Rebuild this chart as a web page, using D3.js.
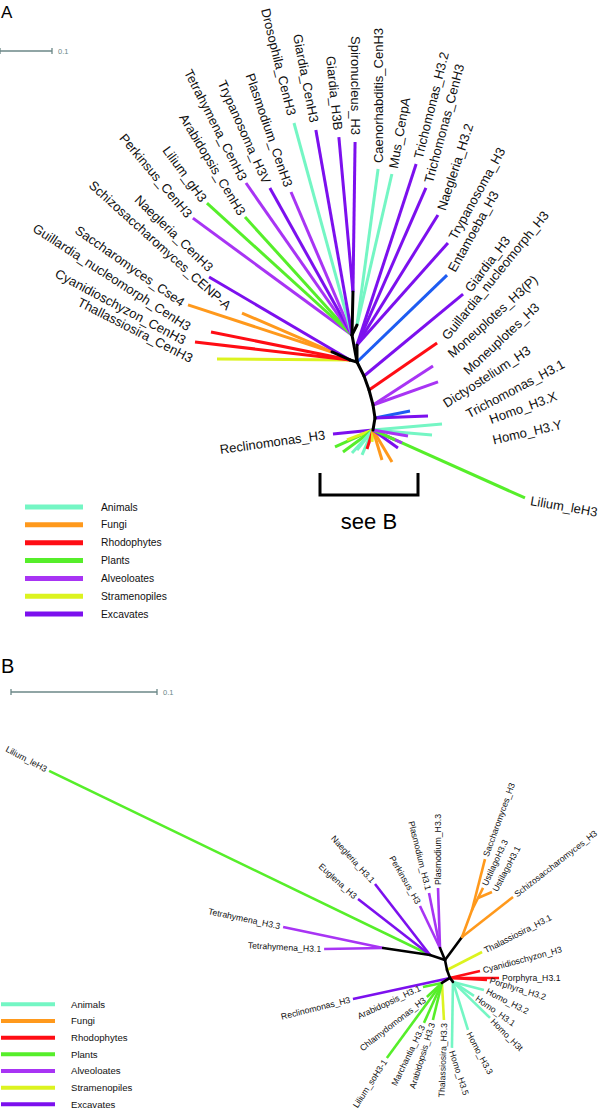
<!DOCTYPE html>
<html><head><meta charset="utf-8">
<script src="https://cdn.jsdelivr.net/npm/d3@7"></script>
<style>body{margin:0;background:#fff} text{font-family:"Liberation Sans",Arial,Helvetica,sans-serif}</style>
</head><body><svg id="c" width="600" height="1111"></svg>
<script>
// ---------- DATA ----------
const groups = ["Animals","Fungi","Rhodophytes","Plants","Alveoloates","Stramenopiles","Excavates"];
const groupColors = ["#74f6c4","#ff991c","#ff0d14","#56ee2a","#a834f4","#dcf31f","#7c10ee"];
const extraGroup = "Amoebozoa", extraColor = "#1e5cf2";
const scaleBarValue = 0.1;

// Panel A internal nodes: parent, branch length (subst./site), direction (deg)
const nodesA = [
  {id:"R"},
  {id:"nTop", parent:"R",   len:0.0528, ang:-100.5},
  {id:"nGS",  parent:"nTop",len:0.0827, ang:-88.7},
  {id:"nCM",  parent:"nTop",len:0.0215, ang:-63.4},
  {id:"nR1",  parent:"R",   len:0.0327, ang:-90},
  {id:"nL",   parent:"R",   len:0.0140, ang:-164},
  {id:"nF",   parent:"nL",  len:0.0379, ang:-156},
  {id:"nB1",  parent:"R",   len:0.0301, ang:63.4},
  {id:"nB2",  parent:"nB1", len:0.0286, ang:70.3},
  {id:"nB3",  parent:"nB2", len:0.0298, ang:75.1},
  {id:"nB4",  parent:"nB3", len:0.0253, ang:81.3},
  {id:"nB5",  parent:"nB4", len:0.0234, ang:99.5}
];
// Panel A leaves: name, group, parent, length, direction, label angle
const tipsA = [
  {name:"Thallassiosira_CenH3", g:"Stramenopiles", parent:"nL", len:0.2558, ang:-179.6, rot:27},
  {name:"Cyanidioschyzon_CenH3", g:"Rhodophytes", parent:"nL", len:0.3001, ang:-173.4, rot:28},
  {name:"Guillardia_nucleomorph_CenH3", g:"Rhodophytes", parent:"nL", len:0.2727, ang:-168.6, rot:33},
  {name:"Saccharomyces_Cse4", g:"Fungi", parent:"nF", len:0.2913, ang:-161.9, rot:35},
  {name:"Schizosaccharomyces_CENP-A", g:"Fungi", parent:"nF", len:0.1886, ang:-156.6, rot:42},
  {name:"Naegleria_CenH3", g:"Excavates", parent:"nL", len:0.3146, ang:-149.5, rot:44},
  {name:"Perkinsus_CenH3", g:"Alveoloates", parent:"nTop", len:0.3796, ang:-143.7, rot:50},
  {name:"Lilium_gH3", g:"Plants", parent:"nTop", len:0.3771, ang:-137.7, rot:54},
  {name:"Arabidopsis_CenH3", g:"Plants", parent:"nTop", len:0.3063, ang:-132.2, rot:59},
  {name:"Tetrahymena_CenH3", g:"Alveoloates", parent:"nTop", len:0.3564, ang:-124.9, rot:63},
  {name:"Trypanosoma_H3V", g:"Excavates", parent:"nTop", len:0.3237, ang:-119.2, rot:66},
  {name:"Plasmodium_CenH3", g:"Alveoloates", parent:"nTop", len:0.2990, ang:-113.1, rot:71},
  {name:"Drosophila_CenH3", g:"Animals", parent:"nTop", len:0.4227, ang:-105.3, rot:76},
  {name:"Giardia_CenH3", g:"Excavates", parent:"nTop", len:0.4002, ang:-100.0, rot:79},
  {name:"Giardia_H3B", g:"Excavates", parent:"nGS", len:0.2993, ang:-95.2, rot:84},
  {name:"Spironucleus_H3", g:"Excavates", parent:"nGS", len:0.2885, ang:-89.2, rot:90},
  {name:"Caenorhabditis_CenH3", g:"Animals", parent:"nCM", len:0.3027, ang:-82.3, rot:-90},
  {name:"Mus_CenpA", g:"Animals", parent:"nCM", len:0.2981, ang:-77.0, rot:-80},
  {name:"Trichomonas_H3.2", g:"Excavates", parent:"nR1", len:0.3661, ang:-71.9, rot:-76},
  {name:"Trichomonas_CenH3", g:"Excavates", parent:"nR1", len:0.3298, ang:-66.3, rot:-75},
  {name:"Naegleria_H3.2", g:"Excavates", parent:"nR1", len:0.2946, ang:-58.1, rot:-72},
  {name:"Trypanosoma_H3", g:"Excavates", parent:"nR1", len:0.2629, ang:-48.3, rot:-61},
  {name:"Entamoeba_H3", g:"Amoebozoa", parent:"R", len:0.2407, ang:-44.0, rot:-61},
  {name:"Giardia_H3", g:"Excavates", parent:"nB1", len:0.2472, ang:-39.6, rot:-53},
  {name:"Guillardia_nucleomorph_H3", g:"Rhodophytes", parent:"nB2", len:0.1590, ang:-34.6, rot:-51},
  {name:"Moneuplotes_H3(P)", g:"Alveoloates", parent:"nB3", len:0.1376, ang:-33.0, rot:-42},
  {name:"Moneuplotes_H3", g:"Alveoloates", parent:"nB3", len:0.1326, ang:-19.5, rot:-43},
  {name:"Dictyostelium_H3", g:"Amoebozoa", parent:"nB4", len:0.0687, ang:-11.3, rot:-33},
  {name:"Trichomonas_H3.1", g:"Excavates", parent:"nB4", len:0.1020, ang:-2.2, rot:-28},
  {name:"Homo_H3.X", g:"Animals", parent:"nB5", len:0.1332, ang:-5.0, rot:-20},
  {name:"Homo_H3.Y", g:"Animals", parent:"nB5", len:0.1139, ang:4.8, rot:-13},
  {name:"Lilium_leH3", g:"Plants", parent:"nB5", len:0.3202, ang:24.1, rot:10},
  {name:"Reclinomonas_H3", g:"Excavates", parent:"nB5", len:0.0773, ang:174.3, rot:-8}
];
// Panel A collapsed H3 cluster (shown in B), unlabeled
const clusterA = [
  {g:"Plants", parent:"nB5", len:0.0800, ang:155.9},
  {g:"Stramenopiles", parent:"nB5", len:0.0536, ang:159.0},
  {g:"Plants", parent:"nB5", len:0.0716, ang:143.7},
  {g:"Animals", parent:"nB5", len:0.0599, ang:132.4},
  {g:"Animals", parent:"nB5", len:0.0492, ang:128.7},
  {g:"Animals", parent:"nB5", len:0.0525, ang:113.7},
  {g:"Rhodophytes", parent:"nB5", len:0.0383, ang:107.5},
  {g:"Stramenopiles", parent:"nB5", len:0.0232, ang:94.8},
  {g:"Fungi", parent:"nB5", len:0.0602, ang:73.3},
  {g:"Fungi", parent:"nB5", len:0.0716, ang:59.3},
  {g:"Excavates", parent:"nB5", len:0.0592, ang:35.8},
  {g:"Alveoloates", parent:"nB5", len:0.0611, ang:24.1},
  {g:"Plants", parent:"nB5", len:0.0465, ang:24.4},
  {g:"Alveoloates", parent:"nB5", len:0.0683, ang:9.7}
];

// Panel B internal nodes
const nodesB = [
  {id:"RB"},
  {id:"b1", parent:"RB", len:0.0070, ang:-101.3},
  {id:"bPlas", parent:"b1", len:0.0089, ang:-112.6},
  {id:"bLeft", parent:"b1", len:0.0108, ang:-161.6},
  {id:"bTet", parent:"bLeft", len:0.0325, ang:-171.5},
  {id:"bFun", parent:"b1", len:0.0196, ang:-53.5},
  {id:"bFun2", parent:"bFun", len:0.0197, ang:-69.7, g:"Fungi"},
  {id:"bUst", parent:"bFun2", len:0.0092, ang:-63.4, g:"Fungi"},
  {id:"b2", parent:"RB", len:0.0058, ang:69.4},
  {id:"bGreen", parent:"b2", len:0.0065, ang:148},
  {id:"bAnim", parent:"b2", len:0.0034, ang:53.1}
];
const tipsB = [
  {name:"Lilium_leH3", g:"Plants", parent:"bLeft", len:0.2898, ang:-154.2, rot:28},
  {name:"Tetrahymena_H3.3", g:"Alveoloates", parent:"bTet", len:0.0700, ang:-168.1, rot:12},
  {name:"Tetrahymena_H3.1", g:"Alveoloates", parent:"bTet", len:0.0404, ang:179.0, rot:3},
  {name:"Euglena_H3", g:"Excavates", parent:"bLeft", len:0.0625, ang:-142.1, rot:42},
  {name:"Naegleria_H3.1", g:"Excavates", parent:"bLeft", len:0.0615, ang:-127.8, rot:48},
  {name:"Perkinsus_H3", g:"Alveoloates", parent:"bPlas", len:0.0319, ang:-115.5, rot:60},
  {name:"Plasmodium_H3.1", g:"Alveoloates", parent:"bPlas", len:0.0384, ang:-101.3, rot:76},
  {name:"Plasmodium_H3.3", g:"Alveoloates", parent:"bPlas", len:0.0411, ang:-91.9, rot:-90},
  {name:"Saccharomyces_H3", g:"Fungi", parent:"bFun2", len:0.0360, ang:-75.7, rot:-70},
  {name:"UstilagoH3.3", g:"Fungi", parent:"bUst", len:0.0077, ang:-63.4, rot:-65},
  {name:"UstilagoH3.1", g:"Fungi", parent:"bUst", len:0.0104, ang:-23.2, rot:-62},
  {name:"Schizosaccharomyces_H3", g:"Fungi", parent:"bFun", len:0.0444, ang:-38.1, rot:-38},
  {name:"Thalassiosira_H3.1", g:"Stramenopiles", parent:"RB", len:0.0270, ang:-27.2, rot:-27},
  {name:"Cyanidioschyzon_H3", g:"Rhodophytes", parent:"b2", len:0.0211, ang:-13.1, rot:-15},
  {name:"Porphyra_H3.1", g:"Rhodophytes", parent:"b2", len:0.0336, ang:0, rot:0},
  {name:"Porphyra_H3.2", g:"Rhodophytes", parent:"b2", len:0.0254, ang:3.1, rot:17},
  {name:"Homo_H3.2", g:"Animals", parent:"bAnim", len:0.0219, ang:14.5, rot:27},
  {name:"Homo_H3.1", g:"Animals", parent:"bAnim", len:0.0173, ang:33.7, rot:35},
  {name:"Homo_H3t", g:"Animals", parent:"bAnim", len:0.0354, ang:44.2, rot:45},
  {name:"Homo_H3.3", g:"Animals", parent:"bAnim", len:0.0344, ang:72.6, rot:62},
  {name:"Homo_H3.5", g:"Animals", parent:"bAnim", len:0.0452, ang:90.9, rot:72},
  {name:"Thalassiosira_H3.3", g:"Stramenopiles", parent:"bGreen", len:0.0254, ang:86.9, rot:-88},
  {name:"Arabidopsis_H3.3", g:"Plants", parent:"bGreen", len:0.0261, ang:103.7, rot:-73},
  {name:"Marchantia_H3.3", g:"Plants", parent:"bGreen", len:0.0300, ang:114.2, rot:-64},
  {name:"Lilium_soH3-1", g:"Plants", parent:"bGreen", len:0.0637, ang:126.3, rot:-57},
  {name:"Chlamydomonas_H3", g:"Plants", parent:"bGreen", len:0.0141, ang:137.0, rot:-38},
  {name:"Arabidopsis_H3.1", g:"Plants", parent:"bGreen", len:0.0133, ang:168.1, rot:-25},
  {name:"Reclinomonas_H3", g:"Excavates", parent:"b2", len:0.0680, ang:167.8, rot:-14}
];

// ---------- DRAWING ----------
const svg = d3.select("#c");
const color = d3.scaleOrdinal().domain(groups.concat([extraGroup])).range(groupColors.concat([extraColor]));
const gray = "#6b8787";

function drawTree(opt){
  const {nodes, tips, cluster, scale, origin, sw, fs, gap, gaps} = opt;
  const g = svg.append("g");
  const pos = new Map([[nodes[0].id, origin]]);
  const place = d => { const p = pos.get(d.parent), r = scale(d.len), a = d.ang*Math.PI/180;
    return [p[0]+r*Math.cos(a), p[1]+r*Math.sin(a)]; };
  nodes.slice(1).forEach(n => pos.set(n.id, place(n)));
  const seg = d => ({d, p:pos.get(d.parent), q:place(d)});
  const leafSegs = tips.map(seg).concat(cluster.map(seg));
  g.selectAll("line.leaf").data(leafSegs).join("line").attr("class","leaf")
    .attr("x1",s=>s.p[0]).attr("y1",s=>s.p[1]).attr("x2",s=>s.q[0]).attr("y2",s=>s.q[1])
    .attr("stroke",s=>color(s.d.g)).attr("stroke-width",sw).attr("stroke-linecap","butt");
  const inner = nodes.slice(1).map(seg);
  g.selectAll("line.inner").data(inner).join("line").attr("class","inner")
    .attr("x1",s=>s.p[0]).attr("y1",s=>s.p[1]).attr("x2",s=>s.q[0]).attr("y2",s=>s.q[1])
    .attr("stroke",s=>s.d.g?color(s.d.g):"#000").attr("stroke-width",sw).attr("stroke-linecap","round");
  g.selectAll("text.lab").data(tips).join("text").attr("class","lab")
    .each(function(t){
      const [x,y] = place(t), a = t.ang*Math.PI/180, r = t.rot*Math.PI/180;
      const o = gaps[t.name] != null ? [].concat(gaps[t.name]) : [gap];
      const gp = o[0], shift = o[1] || 0;
      const lx = x+gp*Math.cos(a), ly = y+gp*Math.sin(a);
      const dot = Math.cos(a)*Math.cos(r)+Math.sin(a)*Math.sin(r);
      d3.select(this).attr("transform",`translate(${lx},${ly}) rotate(${t.rot})`)
        .attr("text-anchor", dot>=0?"start":"end").attr("y", shift).attr("dy","0.35em")
        .attr("font-size",fs).attr("fill","#111").text(t.name);
    });
  return pos;
}

function scaleBar(scale, x, y, fs){
  const w = scale(scaleBarValue);
  const g = svg.append("g").attr("stroke",gray).attr("stroke-width",1.3);
  g.append("line").attr("x1",x).attr("x2",x+w).attr("y1",y).attr("y2",y);
  g.append("line").attr("x1",x).attr("x2",x).attr("y1",y-3).attr("y2",y+3);
  g.append("line").attr("x1",x+w).attr("x2",x+w).attr("y1",y-3).attr("y2",y+3);
  svg.append("text").attr("x",x+w+6).attr("y",y+3).attr("font-size",fs).attr("fill",gray).text(String(scaleBarValue));
}

function legend(x0, x1, tx, y0, dy, sw, fs){
  const g = svg.append("g");
  groups.forEach((name,i)=>{
    const y = y0+i*dy;
    g.append("line").attr("x1",x0).attr("x2",x1).attr("y1",y).attr("y2",y)
      .attr("stroke",color(name)).attr("stroke-width",sw);
    g.append("text").attr("x",tx).attr("y",y).attr("dy","0.35em").attr("font-size",fs).attr("fill","#111").text(name);
  });
}

// Panel A
const lenA = d3.scaleLinear().domain([0, scaleBarValue]).range([0, 52]);
svg.append("text").attr("x",1).attr("y",18).attr("font-size",17).text("A");
scaleBar(lenA, 0, 51, 7.5);
drawTree({nodes:nodesA, tips:tipsA, cluster:clusterA, scale:lenA, origin:[357,362], sw:3, fs:13, gap:6,
  gaps:{"Thallassiosira_CenH3":25,"Cyanidioschyzon_CenH3":10,"Guillardia_nucleomorph_CenH3":22,
        "Saccharomyces_Cse4":5,"Schizosaccharomyces_CENP-A":14,"Naegleria_CenH3":[4,-8],
        "Perkinsus_CenH3":4,"Lilium_gH3":4,"Arabidopsis_CenH3":4,"Tetrahymena_CenH3":4,
        "Drosophila_CenH3":8,"Giardia_CenH3":8,"Giardia_H3B":7,"Spironucleus_H3":7,
        "Guillardia_nucleomorph_H3":9,"Moneuplotes_H3(P)":20,"Moneuplotes_H3":29,"Dictyostelium_H3":35,
        "Trichomonas_H3.1":39,"Homo_H3.X":48,"Homo_H3.Y":61,"Lilium_leH3":6,"Reclinomonas_H3":8}});
// bracket "see B"
svg.append("path").attr("d","M320,473 V495 H418 V473").attr("fill","none").attr("stroke","#000").attr("stroke-width",3);
svg.append("text").attr("x",369).attr("y",529).attr("text-anchor","middle").attr("font-size",22).text("see B");
legend(25, 83, 101, 507, 17.85, 5, 10.3);

// Panel B
const lenB = d3.scaleLinear().domain([0, scaleBarValue]).range([0, 146]);
svg.append("text").attr("x",1).attr("y",673).attr("font-size",20).text("B");
scaleBar(lenB, 11, 692, 7.5);
drawTree({nodes:nodesB, tips:tipsB, cluster:[], scale:lenB, origin:[447,970], sw:2.6, fs:8.7, gap:3, gaps:{}});
legend(1, 55, 71, 1004.3, 16.67, 4, 9.6);
</script></body></html>
